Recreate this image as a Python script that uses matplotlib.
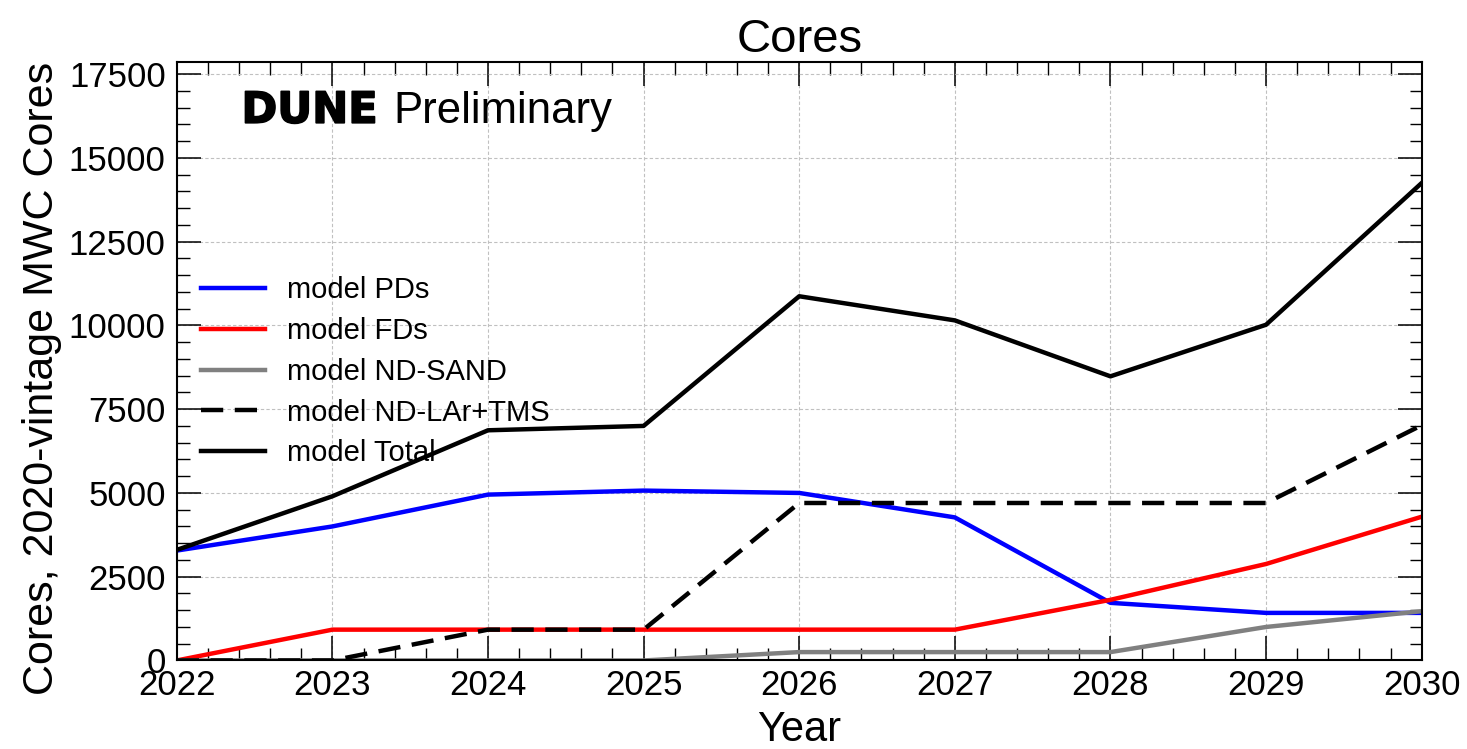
import matplotlib
matplotlib.use("Agg")
import matplotlib.pyplot as plt
from matplotlib.ticker import MultipleLocator
import matplotlib.patheffects as pe

plt.rcParams['font.family'] = ['Liberation Sans', 'DejaVu Sans']

# values
years = [2022, 2023, 2024, 2025, 2026, 2027, 2028, 2029, 2030]
pds = [3280, 4000, 4950, 5070, 5000, 4270, 1720, 1420, 1420]
fds = [0, 920, 920, 920, 920, 920, 1810, 2880, 4290]
sand = [0, 0, 0, 0, 250, 250, 250, 1000, 1470]
ndlar = [0, 0, 920, 920, 4700, 4700, 4700, 4700, 7020]
total = [3300, 4900, 6870, 7000, 10870, 10150, 8480, 10020, 14250]

fig = plt.figure(figsize=(14.67, 7.49), dpi=100)
ax = fig.add_axes([0.1205, 0.1182, 0.8486, 0.7994])

lw = 3.2
ax.plot(years, pds, color='#0000ff', lw=lw, label='model PDs')
ax.plot(years, fds, color='#ff0000', lw=lw, label='model FDs')
ax.plot(years, sand, color='#808080', lw=lw, label='model ND-SAND')
ax.plot(years, ndlar, color='black', lw=lw, dashes=(5, 2.6), label='model ND-LAr+TMS')
ax.plot(years, total, color='black', lw=lw, label='model Total')

ax.set_xlim(2022, 2030)
ax.set_ylim(0, 17870)

ax.xaxis.set_major_locator(MultipleLocator(1))
ax.xaxis.set_minor_locator(MultipleLocator(0.2))
ax.yaxis.set_major_locator(MultipleLocator(2500))
ax.yaxis.set_minor_locator(MultipleLocator(500))

ax.tick_params(which='both', direction='in', top=True, right=True)
ax.tick_params(which='major', length=17, width=1.1)
ax.tick_params(which='minor', length=9, width=1.0)
ax.tick_params(axis='x', which='major', labelsize=25, pad=6)
ax.tick_params(axis='y', which='major', labelsize=25, pad=8)
for sp in ax.spines.values():
    sp.set_linewidth(1.5)

ax.grid(True, which='major', ls=(0, (3, 2)), color='#c0c0c0', lw=0.8)

ax.set_title('Cores', fontsize=34, pad=4)
ax.set_xlabel('Year', fontsize=30, labelpad=6)
ax.set_ylabel('Cores, 2020-vintage MWC Cores', fontsize=31, loc='top', labelpad=5)

ax.text(0.052, 0.898, 'DUNE', transform=ax.transAxes, fontsize=31,
        family='DejaVu Sans', fontweight='bold', va='baseline', ha='left',
        path_effects=[pe.withStroke(linewidth=1.2, foreground='black')])
ax.text(0.1737, 0.898, 'Preliminary', transform=ax.transAxes, fontsize=31.5,
        va='baseline', ha='left')

ax.legend(loc='upper left', bbox_to_anchor=(0.0193, 0.642), frameon=False,
          fontsize=21, handlelength=2.2, handletextpad=0.75, labelspacing=0.44,
          borderpad=0, borderaxespad=0)

fig.savefig('out.png', dpi=100)
